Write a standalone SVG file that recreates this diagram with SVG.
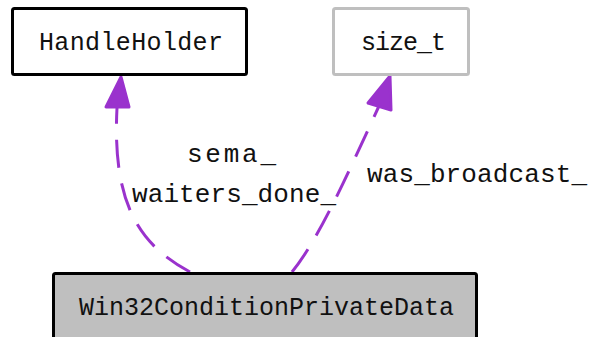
<svg xmlns="http://www.w3.org/2000/svg" width="593" height="337" viewBox="0 0 593 337">
  <style>
    .box { stroke-width: 3; }
    .lbl { font-family: "Liberation Mono", "DejaVu Sans Mono", monospace; font-size: 25px; fill: #111; }
    .elbl { font-size: 26px; }
    .edge { fill: none; stroke: #9a32cd; stroke-width: 3; stroke-dasharray: 28,16; }
    .head { fill: #9a32cd; stroke: #9a32cd; stroke-width: 3; stroke-linejoin: round; }
  </style>
  <rect width="593" height="337" fill="#fff"/>

  <g id="connectors">
    <path class="edge" d="M190,272 C140,245 112,205 117,108"/>
    <polygon class="head" points="121,77 106,107 129,107"/>
    <path class="edge" d="M292,272 C318,240 345,180 379,106"/>
    <polygon class="head" points="390,76 368,103 391,110"/>
    <text class="lbl elbl" x="187" y="162" textLength="89" lengthAdjust="spacing">sema_</text>
    <text class="lbl elbl" x="132" y="202" textLength="204" lengthAdjust="spacing">waiters_done_</text>
    <text class="lbl elbl" x="367" y="182" textLength="220" lengthAdjust="spacing">was_broadcast_</text>
  </g>

  <g id="node-HandleHolder">
    <rect class="box" x="12.5" y="8.5" width="234" height="66" rx="2" fill="#fff" stroke="#000"/>
    <text class="lbl" x="39" y="50" textLength="184" lengthAdjust="spacing">HandleHolder</text>
  </g>

  <g id="node-size_t">
    <rect class="box" x="333.5" y="8.5" width="135" height="66" rx="2" fill="#fff" stroke="#bfbfbf"/>
    <text class="lbl" x="361" y="50" textLength="85" lengthAdjust="spacing">size_t</text>
  </g>

  <g id="node-Win32ConditionPrivateData">
    <rect class="box" x="53.5" y="273.5" width="423" height="70" rx="2" fill="#bfbfbf" stroke="#000"/>
    <text class="lbl" x="79" y="315" textLength="375" lengthAdjust="spacing">Win32ConditionPrivateData</text>
  </g>
</svg>
